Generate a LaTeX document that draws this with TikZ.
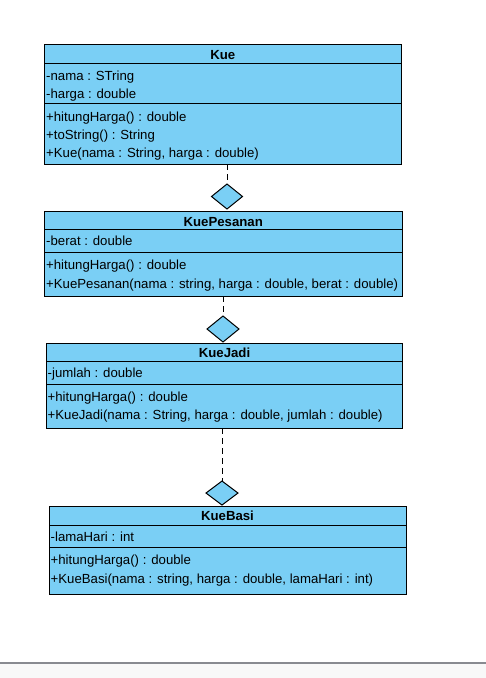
\documentclass[tikz,border=0pt]{standalone}
\usepackage{fontspec}
\setmainfont{Liberation Sans}
\usetikzlibrary{shapes.geometric}
\definecolor{umlfill}{RGB}{122,207,245}
\definecolor{basegray}{RGB}{136,138,144}
\definecolor{basefill}{RGB}{248,248,248}
\begin{document}
\begin{tikzpicture}[x=1pt,y=-1pt,
  classbox/.style={draw=black, fill=umlfill, line width=1pt, anchor=north west, inner sep=0pt, outer sep=0pt},
  sepline/.style={draw=black, line width=1pt},
  classtitle/.style={anchor=base, inner sep=0pt, font=\bfseries\fontsize{13.2}{15}\selectfont},
  member/.style={anchor=base west, inner sep=0pt, font=\fontsize{13.2}{15}\selectfont},
  agg/.style={diamond, draw=black, fill=umlfill, line width=1pt, inner sep=0pt, outer sep=0pt},
  dashline/.style={draw=black, line width=1pt, dash pattern=on 6pt off 4pt}
]
\useasboundingbox (0,0) rectangle (486,678);
\fill[white] (0,0) rectangle (486,663);
\fill[basefill] (0,664) rectangle (486,678);
\draw[basegray, line width=2pt] (0,663) -- (486,663);

% Kue
\node[classbox, minimum width=357.5pt, minimum height=120pt] (kue) at (44,44) {};
\draw[sepline] (kue.west |- 0,63) -- (kue.east |- 0,63);
\draw[sepline] (kue.west |- 0,103) -- (kue.east |- 0,103);
\node[classtitle] (kueT) at (222.75,59.5) {Kue};
\node[member] (kueA1) at (46,80) {-nama : STring};
\node[member] (kueA2) at (46,98) {-harga : double};
\node[member] (kueM1) at (46,121) {+hitungHarga() : double};
\node[member] (kueM2) at (46,139.5) {+toString() : String};
\node[member] (kueM3) at (46,157.5) {+Kue(nama : String, harga : double)};

% KuePesanan
\node[classbox, minimum width=358.5pt, minimum height=85pt] (kp) at (44,211) {};
\draw[sepline] (kp.west |- 0,229) -- (kp.east |- 0,229);
\draw[sepline] (kp.west |- 0,252) -- (kp.east |- 0,252);
\node[classtitle] (kpT) at (223.25,226) {KuePesanan};
\node[member] (kpA1) at (46,245.5) {-berat : double};
\node[member] (kpM1) at (46,269.5) {+hitungHarga() : double};
\node[member] (kpM2) at (46,288) {+KuePesanan(nama : string, harga : double, berat : double)};

% KueJadi
\node[classbox, minimum width=356pt, minimum height=85pt] (kj) at (46.5,343) {};
\draw[sepline] (kj.west |- 0,361) -- (kj.east |- 0,361);
\draw[sepline] (kj.west |- 0,384) -- (kj.east |- 0,384);
\node[classtitle] (kjT) at (224.5,357.5) {KueJadi};
\node[member] (kjA1) at (47.5,377.5) {-jumlah : double};
\node[member] (kjM1) at (47.5,401) {+hitungHarga() : double};
\node[member] (kjM2) at (47.5,419.5) {+KueJadi(nama : String, harga : double, jumlah : double)};

% KueBasi
\node[classbox, minimum width=357pt, minimum height=88pt] (kb) at (49,506) {};
\draw[sepline] (kb.west |- 0,525) -- (kb.east |- 0,525);
\draw[sepline] (kb.west |- 0,547) -- (kb.east |- 0,547);
\node[classtitle] (kbT) at (227.5,520.5) {KueBasi};
\node[member] (kbA1) at (50.5,541) {-lamaHari : int};
\node[member] (kbM1) at (50.5,564.5) {+hitungHarga() : double};
\node[member] (kbM2) at (50.5,583) {+KueBasi(nama : string, harga : double, lamaHari : int)};

% aggregation diamonds
\node[agg, minimum width=31pt, minimum height=25pt] (d1) at (227,196.5) {};
\node[agg, minimum width=32pt, minimum height=26pt] (d2) at (223,329) {};
\node[agg, minimum width=32pt, minimum height=24pt] (d3) at (222,493) {};

\draw[dashline] (kue.south -| d1.north) -- (d1.north);
\draw[dashline] (kp.south -| d2.north) -- (d2.north);
\draw[dashline] (kj.south -| d3.north) -- (d3.north);
\end{tikzpicture}
\end{document}
